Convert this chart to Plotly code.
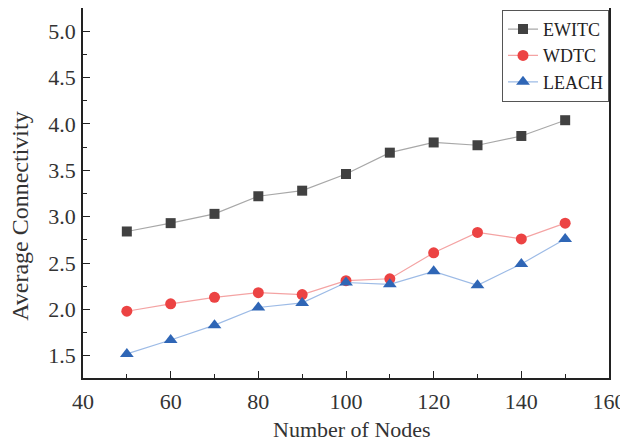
import plotly.graph_objects as go

nodes = [50, 60, 70, 80, 90, 100, 110, 120, 130, 140, 150]
ewitc = [2.84, 2.93, 3.03, 3.22, 3.28, 3.46, 3.69, 3.80, 3.77, 3.87, 4.04]
wdtc = [1.98, 2.06, 2.13, 2.18, 2.16, 2.31, 2.33, 2.61, 2.83, 2.76, 2.93]
leach = [1.52, 1.67, 1.83, 2.02, 2.07, 2.29, 2.27, 2.41, 2.26, 2.49, 2.76]

x_ticks = [40, 60, 80, 100, 120, 140, 160]
y_ticks = [1.5, 2.0, 2.5, 3.0, 3.5, 4.0, 4.5, 5.0]

FONT = "Liberation Serif, Times New Roman, serif"

fig = go.Figure()
fig.add_trace(go.Scatter(
    x=nodes, y=ewitc, name="EWITC", mode="lines+markers",
    line=dict(color="#a8a8a8", width=1.2),
    marker=dict(symbol="square", size=10, color="#414141"),
))
fig.add_trace(go.Scatter(
    x=nodes, y=wdtc, name="WDTC", mode="lines+markers",
    line=dict(color="#f4a3a3", width=1.2),
    marker=dict(symbol="circle", size=11, color="#ec4343"),
))
fig.add_trace(go.Scatter(
    x=nodes, y=leach, name="LEACH", mode="lines+markers",
    line=dict(color="#9dbbe6", width=1.2),
    marker=dict(symbol="triangle-up", size=12, color="#2f66b6"),
))

axis_common = dict(
    showgrid=False, zeroline=False, automargin=False,
    showline=True, linecolor="#222222", linewidth=1.5, mirror=True,
    ticks="inside", tickcolor="#222222", tickwidth=1.2,
    tickfont=dict(family=FONT, size=22, color="#333333"),
)

fig.update_xaxes(
    **axis_common,
    range=[40, 160], tickvals=x_ticks, ticklen=7,
    minor=dict(ticks="inside", dtick=10, ticklen=4, tickcolor="#222222", tickwidth=1.2),
    ticklabelstandoff=3,
)
fig.update_yaxes(
    **axis_common,
    range=[1.26, 5.25], tickvals=y_ticks, tickformat=".1f", ticklen=7,
    minor=dict(ticks="inside", dtick=0.25, ticklen=4, tickcolor="#222222", tickwidth=1.2),
    ticklabelstandoff=1,
)

# axis titles as annotations to match reference placement
fig.add_annotation(
    text="Number of Nodes", xref="paper", yref="paper",
    x=0.511, y=-0.14, xanchor="center", yanchor="middle", showarrow=False,
    font=dict(family=FONT, size=22, color="#333333"),
)
fig.add_annotation(
    text="Average Connectivity", xref="paper", yref="paper",
    x=-0.12, y=0.438, xanchor="center", yanchor="middle", showarrow=False,
    textangle=-90,
    font=dict(family=FONT, size=24, color="#333333"),
)

fig.update_layout(
    width=620, height=433,
    margin=dict(l=75, r=19, t=0, b=63),
    paper_bgcolor="white", plot_bgcolor="white",
    showlegend=True,
    legend=dict(
        x=1, xanchor="right", y=0.995, yanchor="top",
        bordercolor="#555555", borderwidth=1, bgcolor="white",
        font=dict(family=FONT, size=18, color="#222222"),
        tracegroupgap=0, itemwidth=30,
    ),
)

fig.write_html("out.html")
